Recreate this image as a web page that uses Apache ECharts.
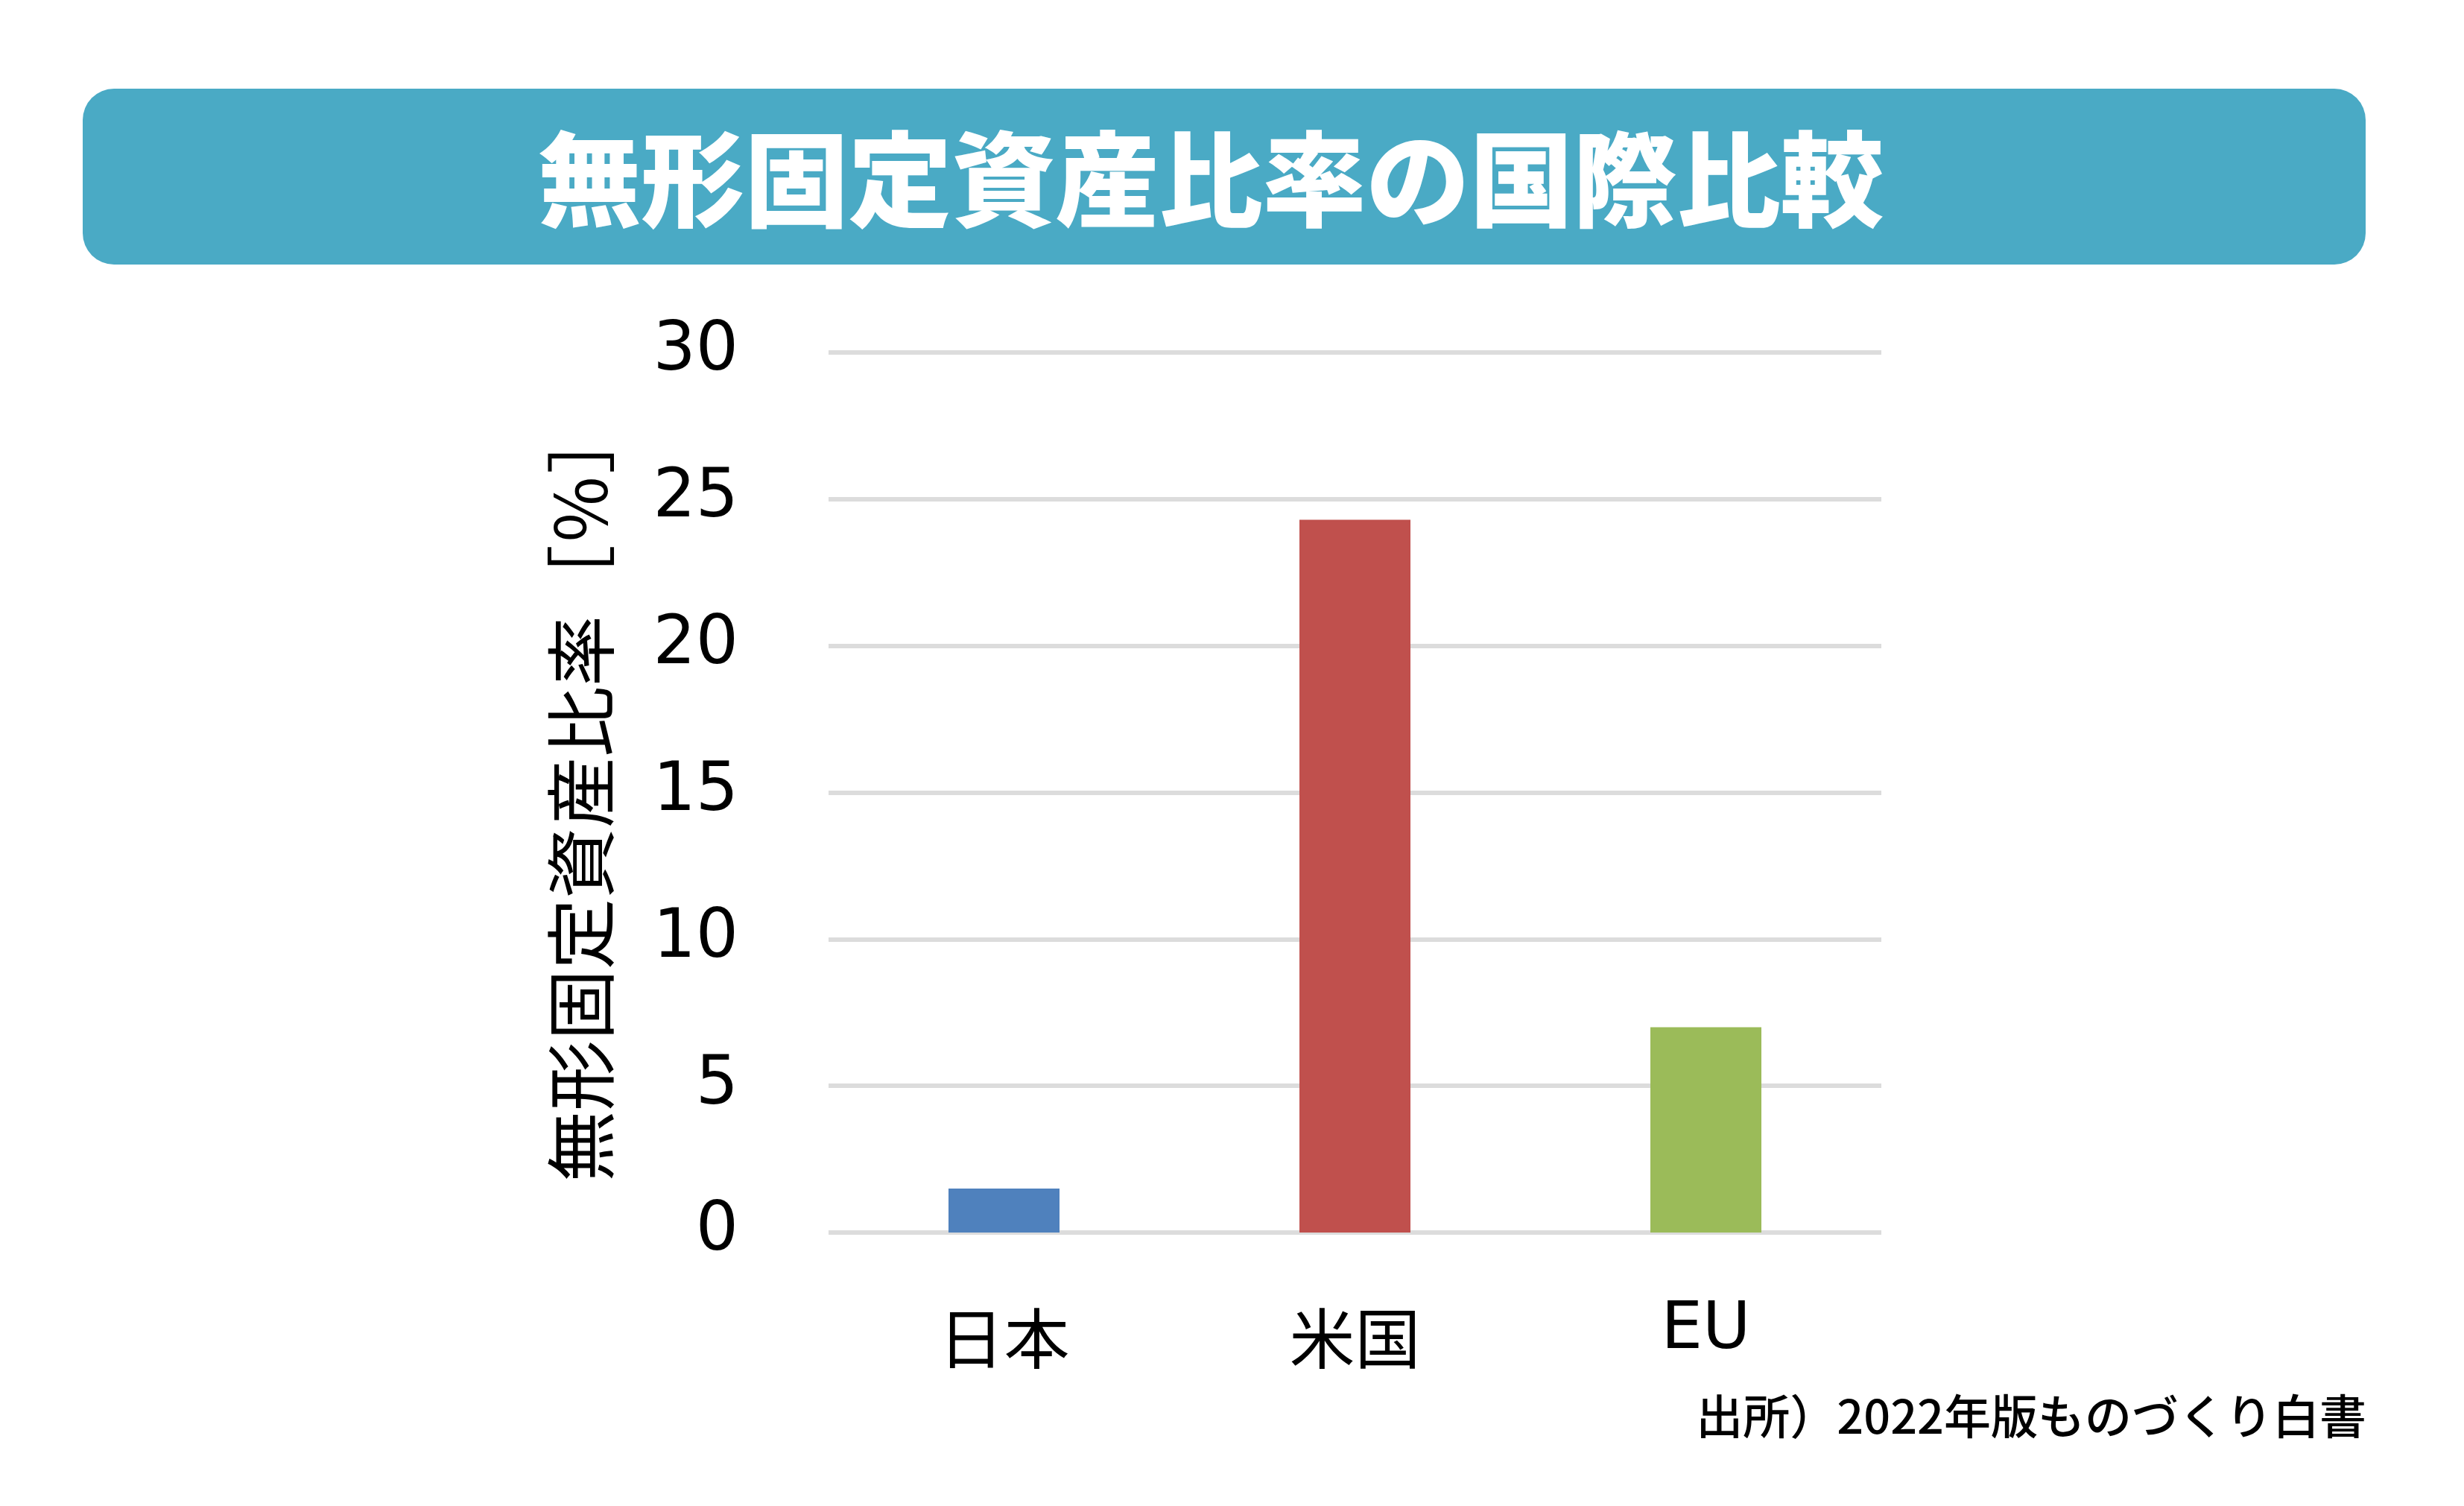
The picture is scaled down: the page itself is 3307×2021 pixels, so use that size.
<!DOCTYPE html>
<html>
<head>
<meta charset="utf-8">
<script src="https://cdn.jsdelivr.net/npm/echarts@6/dist/echarts.min.js"></script>
<style>
html,body{margin:0;padding:0;background:#fff;}
#c{width:3307px;height:2021px;}
</style>
</head>
<body>
<div id="c"></div>
<script>
const categories = ['日本', '米国', 'EU'];
const values = [1.5, 24.3, 7.0];
const barColors = ['#4F81BD', '#C0504D', '#9BBB59'];
const yTicks = [0, 5, 10, 15, 20, 25, 30];
const titleText = '無形固定資産比率の国際比較';
const yAxisName = '無形固定資産比率［％］';
const sourceText = '出所）2022年版ものづくり白書';

const labelFont = "'DejaVu Sans', 'Noto Sans CJK JP', sans-serif";
const chart = echarts.init(document.getElementById('c'));
const option = {
  backgroundColor: '#ffffff',
  animation: false,
  grid: { left: 1112, right: 782, top: 473, bottom: 367, containLabel: false },
  xAxis: {
    type: 'category',
    data: categories,
    axisLine: { show: false },
    axisTick: { show: false },
    axisLabel: {
      margin: 88,
      fontSize: 88,
      color: '#000',
      fontFamily: labelFont,
      formatter: v => /^[A-Za-z]+$/.test(v) ? '{e|' + v + '}' : '{j|' + v + '}',
      rich: {
        j: { fontSize: 88, color: '#000', fontFamily: labelFont, padding: [20, 0, 0, 0] },
        e: { fontSize: 88, color: '#000', fontFamily: labelFont }
      }
    }
  },
  yAxis: {
    type: 'value',
    min: yTicks[0],
    max: yTicks[yTicks.length - 1],
    interval: 5,
    name: yAxisName,
    nameLocation: 'middle',
    nameRotate: 90,
    nameGap: 285,
    nameTextStyle: {
      fontSize: 95,
      color: '#000',
      fontFamily: "'Noto Sans CJK JP', sans-serif"
    },
    axisLine: { show: false },
    axisTick: { show: false },
    axisLabel: {
      margin: 121,
      fontSize: 90,
      color: '#000',
      fontFamily: "'DejaVu Sans', sans-serif"
    },
    splitLine: { show: true, lineStyle: { color: '#DCDCDC', width: 6 } }
  },
  series: [{
    type: 'bar',
    barWidth: 149,
    data: values.map((v, i) => ({ value: v, itemStyle: { color: barColors[i] } }))
  }],
  graphic: [
    {
      type: 'rect',
      shape: { x: 111, y: 119, width: 3064, height: 236, r: 42 },
      style: { fill: '#4AAAC5' },
      z: 10
    },
    {
      type: 'text',
      x: 1625,
      y: 240,
      style: {
        text: titleText,
        fill: '#ffffff',
        fontSize: 139,
        fontWeight: 900,
        fontFamily: "'Noto Sans CJK JP', sans-serif",
        align: 'center',
        verticalAlign: 'middle'
      },
      z: 11
    },
    {
      type: 'text',
      x: 3176,
      y: 1900,
      style: {
        text: sourceText,
        fill: '#000',
        fontSize: 63,
        fontWeight: 500,
        fontFamily: "'Noto Sans CJK JP', sans-serif",
        align: 'right',
        verticalAlign: 'middle'
      },
      z: 11
    }
  ]
};
chart.setOption(option);
</script>
</body>
</html>
